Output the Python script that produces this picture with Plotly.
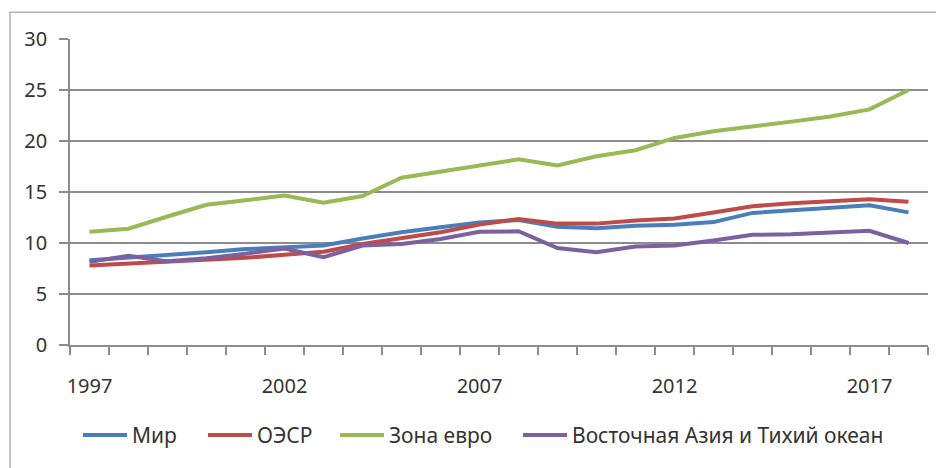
import plotly.graph_objects as go

years = list(range(1997, 2019))
mir = [8.3, 8.55, 8.8, 9.1, 9.4, 9.6, 9.75, 10.45, 11.05, 11.55, 12.0, 12.25, 11.6, 11.45, 11.7, 11.8, 12.05, 12.95, 13.2, 13.4, 13.7, 13.0]
oecd = [7.8, 8.0, 8.2, 8.4, 8.55, 8.85, 9.15, 9.9, 10.5, 11.05, 11.8, 12.35, 11.9, 11.9, 12.2, 12.4, 13.0, 13.6, 13.9, 14.1, 14.3, 14.05]
euro = [11.1, 11.4, 12.6, 13.75, 14.2, 14.65, 13.95, 14.6, 16.4, 17.0, 17.65, 18.2, 17.6, 18.5, 19.1, 20.3, 20.95, 21.4, 21.9, 22.4, 23.1, 25.0]
eap = [8.15, 8.75, 8.2, 8.5, 8.95, 9.45, 8.6, 9.75, 9.9, 10.4, 11.1, 11.15, 9.5, 9.1, 9.65, 9.75, 10.25, 10.8, 10.85, 11.0, 11.2, 10.0]
names = ["Мир", "ОЭСР", "Зона евро", "Восточная Азия и Тихий океан"]
colors = ["#4A7EBB", "#BE4B48", "#98B954", "#7D60A0"]
label_years = [1997, 2002, 2007, 2012, 2017]
y_ticks = [0, 5, 10, 15, 20, 25, 30]

# page offset: html body has 8px margin
W, H = 936, 460
L, T, PW, PH = 62, 31, 858, 308
legend_ids = ["legend", "legend2", "legend3", "legend4"]
legend_left_px = [70, 195, 327, 510]

fig = go.Figure()
for name, vals, col, lid in zip(names, [mir, oecd, euro, eap], colors, legend_ids):
    fig.add_trace(go.Scatter(x=years, y=vals, name=name, mode="lines",
                             line=dict(color=col, width=4), legend=lid))

grid = "#8c8c8c"
leg_y = (PH - (430 - T)) / PH
legends = {}
for lid, lx in zip(legend_ids, legend_left_px):
    legends[lid] = dict(orientation="h", x=(lx - L) / PW, xanchor="left", y=leg_y,
                        yanchor="middle", font=dict(size=21, color="#333333"),
                        itemwidth=44, bgcolor="rgba(0,0,0,0)")

fig.update_layout(
    width=W, height=H,
    margin=dict(l=L, r=W - L - PW, t=T, b=H - T - PH),
    paper_bgcolor="white", plot_bgcolor="white",
    font=dict(family="Noto Sans", size=20, color="#333333"),
    showlegend=True,
    xaxis=dict(range=[1996.5, 2018.5], tickmode="array", tickvals=label_years,
               ticktext=[str(v) for v in label_years],
               ticks="outside", ticklen=22, tickcolor="rgba(0,0,0,0)",
               showgrid=False, zeroline=False, showline=True, linecolor=grid, linewidth=1.5,
               automargin=False,
               minor=dict(tickvals=[1996.5 + i for i in range(23)], ticks="outside",
                          ticklen=8, tickcolor=grid, tickwidth=1.5, showgrid=False)),
    yaxis=dict(range=[0, 30], tickmode="array", tickvals=y_ticks,
               ticks="outside", ticklen=9, tickcolor=grid, tickwidth=1.5,
               ticklabelstandoff=8, automargin=False,
               showgrid=True, gridcolor=grid, gridwidth=1.5, zeroline=False,
               showline=True, linecolor=grid, linewidth=1.5),
    shapes=[dict(type="rect", xref="paper", yref="paper",
                 x0=(2 - L) / PW, x1=(W + 20 - L) / PW,
                 y0=-(H + 20 - T - PH) / PH, y1=1 + (T - 4) / PH,
                 line=dict(color="#8a8a8a", width=1), fillcolor="rgba(0,0,0,0)", layer="below")],
    **legends,
)
fig.write_html("out.html")
